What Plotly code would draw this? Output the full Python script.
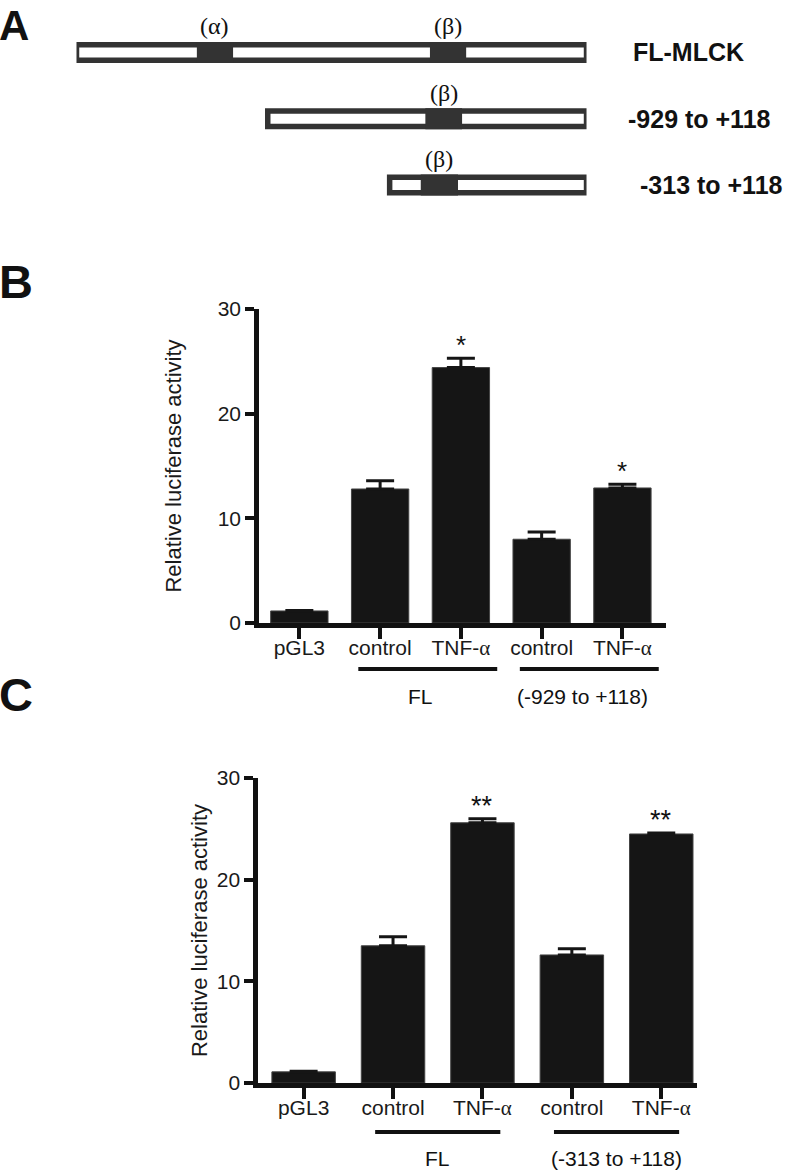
import plotly.graph_objects as go

# ---- data ----
# panel A: promoter constructs (schematic scale 0-100)
construct_names = ["FL-MLCK", "-929 to +118", "-313 to +118"]
construct_start = [0, 37.5, 61.4]
construct_end = [100, 100, 100]
site_labels = ["(α)", "(β)", "(β)", "(β)"]
site_row = [0, 0, 1, 2]
site_start = [23.6, 69.3, 68.4, 67.5]
site_end = [30.7, 76.4, 75.6, 74.8]

# panels B and C: luciferase assay
categories = ["pGL3", "control", "TNF-α", "control", "TNF-α"]
b_mean = [1.15, 12.8, 24.4, 8.0, 12.9]
b_err = [0.05, 0.8, 0.9, 0.7, 0.35]
b_sig = ["", "", "*", "", "*"]
b_groups = ["FL", "(-929 to +118)"]
b_group_idx = [[1, 2], [3, 4]]

c_mean = [1.1, 13.5, 25.6, 12.6, 24.5]
c_err = [0.05, 0.9, 0.4, 0.6, 0.1]
c_sig = ["", "", "**", "", "**"]
c_groups = ["FL", "(-313 to +118)"]
c_group_idx = [[1, 2], [3, 4]]

W, H = 791, 1173
INK = "#151515"
BOX = "#333333"
SANS = "Liberation Sans, Arial, sans-serif"
SERIF = "Liberation Serif, Times New Roman, serif"

pos = list(range(len(categories)))
tick_text = [c.replace("α", "<span style='font-family:Liberation Serif'>α</span>") for c in categories]

fig = go.Figure()

# panel A boxes
fig.add_trace(go.Bar(
    y=list(range(len(construct_names))),
    base=construct_start,
    x=[e - s for s, e in zip(construct_start, construct_end)],
    orientation="h", width=0.234,
    marker=dict(color="white", line=dict(color=BOX, width=5.5)),
    xaxis="x3", yaxis="y3", hoverinfo="skip", showlegend=False))
fig.add_trace(go.Bar(
    y=site_row,
    base=site_start,
    x=[e - s for s, e in zip(site_start, site_end)],
    orientation="h", width=0.317,
    marker=dict(color=BOX, line=dict(width=0)),
    xaxis="x3", yaxis="y3", hoverinfo="skip", showlegend=False))

# panels B, C bars
for mean, err, xa, ya in [(b_mean, b_err, "x", "y"), (c_mean, c_err, "x2", "y2")]:
    fig.add_trace(go.Bar(
        x=pos, y=mean, width=0.71,
        marker=dict(color=INK, line=dict(color="#444", width=1)),
        error_y=dict(type="data", array=err, arrayminus=[0] * len(err),
                     symmetric=False, color=INK, thickness=3, width=14),
        xaxis=xa, yaxis=ya, showlegend=False))

ann = []
shapes = []

# panel A labels
for lab, r, s, e in zip(site_labels, site_row, site_start, site_end):
    ann.append(dict(x=(s + e) / 2, y=r, xref="x3", yref="y3", text=lab,
                    showarrow=False, yshift=26,
                    font=dict(family=SERIF, size=24, color="#111")))
name_shift = [44, 39, 51]
for i, (nm, e) in enumerate(zip(construct_names, construct_end)):
    ann.append(dict(x=e, y=i, xref="x3", yref="y3", text="<b>%s</b>" % nm,
                    showarrow=False, xanchor="left", xshift=name_shift[i],
                    font=dict(family=SANS, size=25, color="#111")))

# significance marks, group lines and labels
panels = [
    (b_mean, b_err, b_sig, b_groups, b_group_idx, "x", "y", 0.4297, 0.4066, (-0.27, 0.45), 26),
    (c_mean, c_err, c_sig, c_groups, c_group_idx, "x2", "y2", 0.0349, 0.0120, (-0.2, 0.2), 27),
]
for mean, err, sig, groups, gidx, xa, ya, line_y, lab_y, (lo, hi), ssz in panels:
    for p, m, e, s in zip(pos, mean, err, sig):
        if s:
            ann.append(dict(x=p, y=m + e, xref=xa, yref=ya, text=s, showarrow=False,
                            yanchor="bottom", yshift=-4,
                            font=dict(family=SANS, size=ssz, color="#111")))
    for g, idx in zip(groups, gidx):
        shapes.append(dict(type="line", xref=xa, yref="paper",
                           x0=min(idx) + lo, x1=max(idx) + hi, y0=line_y, y1=line_y,
                           line=dict(color="#111", width=4)))
        ann.append(dict(x=sum(idx) / len(idx), y=lab_y, xref=xa, yref="paper",
                        text=g, showarrow=False, yanchor="middle",
                        font=dict(family=SANS, size=21, color="#111")))

# panel letters
ann.append(dict(x=0, y=1, xref="paper", yref="paper", text="<b>A</b>",
                showarrow=False, xanchor="left", yanchor="top", xshift=-3,
                font=dict(family=SANS, size=42, color="#111")))
for letter, yy in [("B", 0.7604), ("C", 0.4083)]:
    ann.append(dict(x=0, y=yy, xref="paper", yref="paper", text="<b>%s</b>" % letter,
                    showarrow=False, xanchor="left", yanchor="middle", xshift=-3,
                    font=dict(family=SANS, size=47, color="#111")))

xax = dict(showline=True, linewidth=4.5, linecolor="#111", ticks="outside",
           ticklen=11, tickwidth=3.5, tickcolor="#111", tickvals=pos, ticktext=tick_text,
           showgrid=False, zeroline=False, ticklabelstandoff=-9,
           tickfont=dict(family=SANS, size=21, color="#1a1a1a"))
yax = dict(showline=True, linewidth=4.5, linecolor="#111", ticks="outside",
           ticklen=9, tickwidth=3.5, tickcolor="#111", tickvals=[0, 10, 20, 30],
           range=[0, 30], showgrid=False, zeroline=False,
           tickfont=dict(family=SANS, size=21, color="#1a1a1a"))

fig.update_layout(
    width=W, height=H, margin=dict(l=0, r=0, t=0, b=0, autoexpand=False),
    paper_bgcolor="white", plot_bgcolor="white", barmode="overlay",
    xaxis=dict(xax, domain=[0.3274, 0.8420], range=[-0.5, 4.54], anchor="y"),
    yaxis=dict(yax, domain=[0.4689, 0.7366], anchor="x",
               title=dict(text="Relative luciferase activity", standoff=31,
                          font=dict(family=SANS, size=22, color="#1a1a1a"))),
    xaxis2=dict(xax, domain=[0.3262, 0.8812], range=[-0.51, 4.4], anchor="y2"),
    yaxis2=dict(yax, domain=[0.0767, 0.3367], anchor="x2",
                title=dict(text="Relative luciferase activity", standoff=5,
                           font=dict(family=SANS, size=22, color="#1a1a1a"))),
    xaxis3=dict(domain=[0.0967, 0.7415], range=[0, 100], visible=False, anchor="y3"),
    yaxis3=dict(domain=[0.8141, 0.9835], range=[2.5, -0.5], visible=False, anchor="x3"),
    annotations=ann, shapes=shapes,
)

fig.write_html("out.html", config={"displayModeBar": False},
               post_script="document.body.style.margin='0';")
